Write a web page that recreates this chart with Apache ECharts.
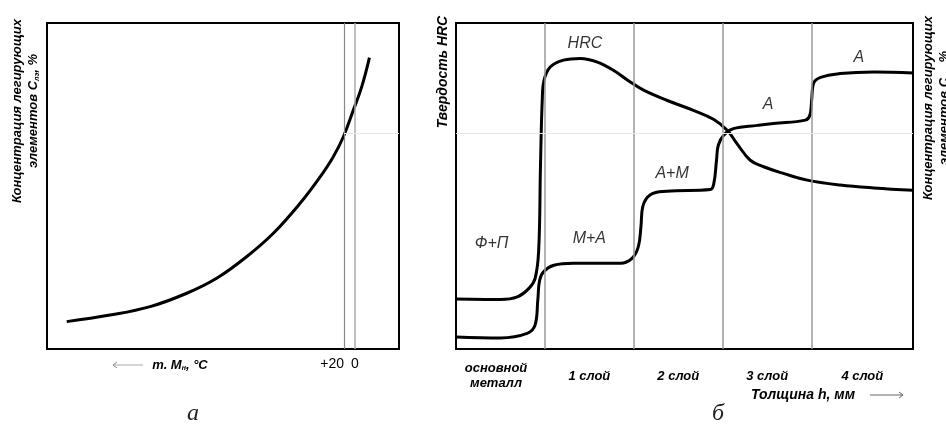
<!DOCTYPE html>
<html>
<head>
<meta charset="utf-8">
<script src="https://cdn.jsdelivr.net/npm/echarts@6/dist/echarts.min.js"></script>
<style>
  html, body { margin: 0; padding: 0; background: #fff; }
  #chart { width: 946px; height: 424px; }
</style>
</head>
<body>
<div id="chart"></div>
<script>
// panel "а": alloy concentration vs Ms temperature
const curveA = [[5.6, 8.4], [17.9, 10.4], [29.3, 13.0], [39.7, 17.1], [48.2, 21.7], [56.7, 28.3],
  [64.3, 35.5], [71.9, 44.7], [77.6, 52.8], [81.3, 58.9], [84.2, 65.1], [87.0, 73.2], [89.4, 80.4], [91.6, 89.4]];
const tempLines = [84.4, 87.5];
const tempTickPos = [81.0, 87.5];
const tempTickText = ['+20', '0'];

// panel "б": hardness and phase structure across layers
const layerBounds = [1, 2, 3, 4];
const layerCenters = [0.45, 1.5, 2.5, 3.5, 4.57];
const layerNames = ['основной\nметалл', '1 слой', '2 слой', '3 слой', '4 слой'];
const hrc = [[0, 15.3], [0.5, 15.2], [0.69, 16], [0.82, 18.6], [0.89, 21.7], [0.93, 30.3], [0.95, 55.9],
  [0.97, 76.3], [0.99, 82.4], [1.06, 86.5], [1.21, 88.6], [1.4, 89.1], [1.59, 88], [1.77, 85.5], [1.96, 81.9],
  [2.11, 79.4], [2.37, 76.3], [2.67, 73.2], [2.9, 70.4], [3.05, 67.1], [3.16, 63], [3.31, 57.9], [3.46, 55.9],
  [3.69, 53.8], [3.95, 51.8], [4.32, 50.3], [4.7, 49.4], [5.14, 48.7]];
const phase = [[0, 3.7], [0.5, 3.4], [0.8, 4.8], [0.89, 7.4], [0.92, 15], [0.94, 21], [0.985, 23.7], [1.1, 25.7],
  [1.32, 26.3], [1.85, 26.3], [1.98, 27.8], [2.05, 31.3], [2.08, 37.5], [2.1, 43.6], [2.19, 47.4], [2.37, 48.4],
  [2.86, 48.9], [2.9, 50.8], [2.93, 57.9], [2.95, 62.5], [3.01, 65.6], [3.12, 67.6], [3.39, 68.6], [3.57, 69.2],
  [3.93, 70.2], [3.98, 71.7], [4.0, 76.3], [4.02, 81.4], [4.1, 83.3], [4.32, 84.5], [4.7, 85], [5.14, 84.7]];
const regionLabels = [[1.45, 93.8, 'HRC'], [0.40, 32.2, 'Ф+П'], [1.5, 34.0, 'М+А'], [2.43, 53.9, 'А+М'],
  [3.51, 75.1, 'А'], [4.53, 89.5, 'А']];
const faintLevel = 66.2;

const chart = echarts.init(document.getElementById('chart'));
const FONT = 'Liberation Sans';
const boldItalic = { fontFamily: FONT, fontWeight: 'bold', fontStyle: 'italic', fontSize: 13, fill: '#000' };

const option = {
  animation: false,
  grid: [
    { left: 47, top: 23, width: 352, height: 326, show: true, borderColor: '#000', borderWidth: 2 },
    { left: 456, top: 23, width: 457, height: 326, show: true, borderColor: '#000', borderWidth: 2 }
  ],
  xAxis: [
    {
      gridIndex: 0, type: 'value', min: 0, max: 100,
      axisLine: { show: false }, axisTick: { show: false }, splitLine: { show: false },
      axisLabel: {
        customValues: tempTickPos, margin: 8, fontFamily: FONT, fontSize: 14, color: '#000',
        formatter: v => tempTickText[tempTickPos.indexOf(v)] || ''
      }
    },
    {
      gridIndex: 1, type: 'value', min: 0, max: 5.14,
      axisLine: { show: false }, axisTick: { show: false }, splitLine: { show: false },
      axisLabel: {
        customValues: layerCenters, margin: 27, verticalAlign: 'middle', lineHeight: 15,
        fontFamily: FONT, fontSize: 13, fontWeight: 'bold', fontStyle: 'italic', color: '#000',
        formatter: v => layerNames[layerCenters.indexOf(v)] || ''
      }
    }
  ],
  yAxis: [
    { gridIndex: 0, type: 'value', min: 0, max: 100, show: false },
    { gridIndex: 1, type: 'value', min: 0, max: 100, show: false }
  ],
  series: [
    {
      type: 'line', xAxisIndex: 0, yAxisIndex: 0, data: curveA, smooth: 0.4, showSymbol: false,
      lineStyle: { color: '#000', width: 3 },
      markLine: {
        silent: true, symbol: 'none', label: { show: false },
        data: [
          { xAxis: tempLines[0], lineStyle: { color: '#888', width: 1.2, type: 'solid' } },
          { xAxis: tempLines[1], lineStyle: { color: '#aaa', width: 1.5, type: 'solid' } },
          [{ coord: [tempLines[0], faintLevel], lineStyle: { color: '#e8e8e8', width: 1, type: 'solid' } },
           { coord: [100, faintLevel] }]
        ]
      }
    },
    {
      type: 'line', xAxisIndex: 1, yAxisIndex: 1, data: hrc, smooth: 0.4, showSymbol: false,
      lineStyle: { color: '#000', width: 3 },
      markLine: {
        silent: true, symbol: 'none', label: { show: false },
        lineStyle: { color: '#999', width: 1.5, type: 'solid' },
        data: layerBounds.map(b => ({ xAxis: b })).concat([
          { yAxis: faintLevel, lineStyle: { color: '#e8e8e8', width: 1 } }
        ])
      }
    },
    {
      type: 'line', xAxisIndex: 1, yAxisIndex: 1, data: phase, smooth: 0.4, showSymbol: false,
      lineStyle: { color: '#000', width: 3 }
    },
    {
      type: 'scatter', xAxisIndex: 1, yAxisIndex: 1, symbolSize: 0, silent: true,
      data: regionLabels.map(r => ({ value: [r[0], r[1]], name: r[2] })),
      label: {
        show: true, position: 'inside', formatter: p => p.name,
        fontFamily: FONT, fontStyle: 'italic', fontSize: 16, color: '#000', textBorderWidth: 0
      }
    }
  ],
  graphic: [
    {
      type: 'text', x: 25, y: 111, rotation: Math.PI / 2,
      style: {
        text: '{b|Концентрация легирующих}\n{b|элементов С}{s|лэ}{b|, %}',
        align: 'center', verticalAlign: 'middle',
        rich: {
          b: { fontFamily: FONT, fontWeight: 'bold', fontStyle: 'italic', fontSize: 13, lineHeight: 16 },
          s: { fontFamily: FONT, fontWeight: 'bold', fontStyle: 'italic', fontSize: 7, lineHeight: 16, verticalAlign: 'bottom' }
        }
      }
    },
    {
      type: 'text', x: 936, y: 108, rotation: Math.PI / 2,
      style: {
        text: '{b|Концентрация легирующих}\n{b|элементов С}{s|лэ}{b|, %}',
        align: 'center', verticalAlign: 'middle',
        rich: {
          b: { fontFamily: FONT, fontWeight: 'bold', fontStyle: 'italic', fontSize: 13, lineHeight: 16 },
          s: { fontFamily: FONT, fontWeight: 'bold', fontStyle: 'italic', fontSize: 7, lineHeight: 16, verticalAlign: 'bottom' }
        }
      }
    },
    {
      type: 'text', x: 443, y: 72, rotation: Math.PI / 2,
      style: Object.assign({}, boldItalic, { text: 'Твердость HRC', fontSize: 14, align: 'center', verticalAlign: 'middle' })
    },
    {
      type: 'text', x: 180, y: 365,
      style: {
        text: '{b|т. М}{s|н}{b|, °С}', align: 'center', verticalAlign: 'middle',
        rich: {
          b: { fontFamily: FONT, fontWeight: 'bold', fontStyle: 'italic', fontSize: 13 },
          s: { fontFamily: FONT, fontWeight: 'bold', fontStyle: 'italic', fontSize: 7, verticalAlign: 'bottom' }
        }
      }
    },
    { type: 'line', shape: { x1: 113, y1: 365, x2: 143, y2: 365 }, style: { stroke: '#aaa', lineWidth: 1 } },
    { type: 'polyline', shape: { points: [[117, 362], [113, 365], [117, 368]] }, style: { stroke: '#888', lineWidth: 1, fill: null } },
    {
      type: 'text', x: 803, y: 395,
      style: Object.assign({}, boldItalic, { text: 'Толщина h, мм', fontSize: 14, align: 'center', verticalAlign: 'middle' })
    },
    { type: 'line', shape: { x1: 870, y1: 395, x2: 903, y2: 395 }, style: { stroke: '#666', lineWidth: 1 } },
    { type: 'polyline', shape: { points: [[899, 392], [903, 395], [899, 398]] }, style: { stroke: '#666', lineWidth: 1, fill: null } },
    {
      type: 'text', x: 193, y: 414,
      style: { text: 'а', fontFamily: 'Liberation Serif', fontStyle: 'italic', fontSize: 24, fill: '#222', align: 'center', verticalAlign: 'middle' }
    },
    {
      type: 'text', x: 718, y: 414,
      style: { text: 'б', fontFamily: 'Liberation Serif', fontStyle: 'italic', fontSize: 24, fill: '#222', align: 'center', verticalAlign: 'middle' }
    }
  ]
};

chart.setOption(option);
</script>
</body>
</html>
